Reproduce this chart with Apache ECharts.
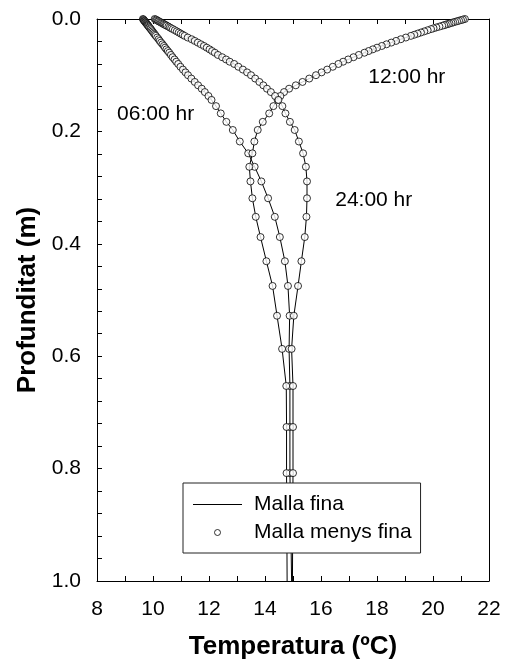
<!DOCTYPE html>
<html>
<head>
<meta charset="utf-8">
<title>Perfils de temperatura</title>
<script src="https://cdn.jsdelivr.net/npm/echarts@6/dist/echarts.min.js"></script>
<style>
  html, body { margin: 0; padding: 0; background: #fff; }
  #chart { width: 506px; height: 665px; }
</style>
</head>
<body>
<div id="chart"></div>
<script>
// Node depths of the coarser mesh (m), shared by the three profiles
const depths = [
  0, 0.001, 0.002, 0.003, 0.004, 0.005, 0.006, 0.007, 0.008, 0.009,
  0.010, 0.011, 0.012, 0.0135, 0.015, 0.0165, 0.018, 0.020, 0.022, 0.024,
  0.026, 0.028, 0.030, 0.033, 0.036, 0.039, 0.042, 0.045, 0.048, 0.051,
  0.054, 0.057, 0.060, 0.064, 0.068, 0.072, 0.076, 0.080, 0.085, 0.090,
  0.095, 0.100, 0.106, 0.112, 0.118, 0.124, 0.130, 0.137, 0.144, 0.155,
  0.168, 0.183, 0.1975, 0.218, 0.239, 0.263, 0.289, 0.319, 0.352, 0.388,
  0.431, 0.475, 0.528, 0.587, 0.653, 0.726, 0.808, 0.900
];

// Temperature (ºC) at each node, 06:00 h
const temp06 = [
  9.64, 9.66, 9.67, 9.69, 9.70, 9.72, 9.73, 9.75, 9.77, 9.78,
  9.80, 9.81, 9.83, 9.85, 9.87, 9.90, 9.92, 9.95, 9.98, 10.01,
  10.04, 10.07, 10.10, 10.15, 10.20, 10.24, 10.29, 10.34, 10.39, 10.43,
  10.48, 10.53, 10.58, 10.64, 10.70, 10.77, 10.83, 10.90, 10.98, 11.07,
  11.16, 11.25, 11.37, 11.49, 11.61, 11.74, 11.85, 11.98, 12.09, 12.25,
  12.42, 12.62, 12.85, 13.10, 13.40, 13.63, 13.87, 14.11, 14.35, 14.53,
  14.71, 14.82, 14.88, 14.86, 14.89, 14.89, 14.89, 14.92
];

// Temperature (ºC) at each node, 12:00 h
const temp12 = [
  21.14, 21.07, 21.00, 20.93, 20.86, 20.79, 20.72, 20.66, 20.59, 20.53,
  20.46, 20.40, 20.33, 20.23, 20.12, 20.02, 19.93, 19.81, 19.69, 19.57,
  19.45, 19.33, 19.21, 19.03, 18.85, 18.68, 18.51, 18.34, 18.17, 18.00,
  17.85, 17.70, 17.55, 17.35, 17.16, 16.97, 16.79, 16.62, 16.42, 16.22,
  16.02, 15.82, 15.58, 15.34, 15.10, 14.86, 14.68, 14.55, 14.45, 14.30,
  14.15, 13.92, 13.74, 13.62, 13.55, 13.44, 13.48, 13.55, 13.67, 13.84,
  14.05, 14.27, 14.43, 14.61, 14.76, 14.77, 14.77, 14.78
];

// Temperature (ºC) at each node, 24:00 h
const temp24 = [
  10.06, 10.10, 10.13, 10.17, 10.20, 10.24, 10.28, 10.31, 10.35, 10.38,
  10.42, 10.46, 10.49, 10.55, 10.60, 10.65, 10.71, 10.78, 10.85, 10.92,
  10.99, 11.06, 11.13, 11.24, 11.38, 11.49, 11.60, 11.71, 11.82, 11.92,
  12.02, 12.11, 12.21, 12.32, 12.47, 12.61, 12.74, 12.90, 13.05, 13.21,
  13.36, 13.50, 13.65, 13.80, 13.94, 14.07, 14.21, 14.36, 14.48, 14.62,
  14.73, 14.89, 15.06, 15.21, 15.36, 15.46, 15.50, 15.50, 15.48, 15.42,
  15.30, 15.18, 15.03, 14.95, 15.00, 15.00, 15.00, 14.99
];

// Bottom of the domain, reached by the fine-mesh solution
const bottomDepth = 1.0;
const bottom06 = 14.95;
const bottom12 = 14.79;
const bottom24 = 14.98;

const profileLabels = ['06:00 hr', '12:00 hr', '24:00 hr'];
const xTicks = [8, 10, 12, 14, 16, 18, 20, 22];
const yTicks = [0.0, 0.2, 0.4, 0.6, 0.8, 1.0];

const FONT = "'Liberation Sans', Arial, Helvetica, sans-serif";

function coarsePoints(temps) {
  return depths.map((d, i) => [temps[i], d]);
}
function finePoints(temps, bottomTemp) {
  return coarsePoints(temps).concat([[bottomTemp, bottomDepth]]);
}

function fineSeries(temps, bottomTemp, label, coord) {
  return {
    name: 'Malla fina',
    type: 'line',
    data: finePoints(temps, bottomTemp),
    symbol: 'none',
    showSymbol: false,
    lineStyle: { color: '#000', width: 1 },
    itemStyle: { color: '#000' },
    z: 2,
    markPoint: {
      silent: true,
      symbol: 'circle',
      symbolSize: 1,
      itemStyle: { color: 'rgba(0,0,0,0)' },
      label: {
        show: true,
        position: 'right',
        distance: 0,
        formatter: label,
        fontSize: 21,
        color: '#000',
        fontFamily: FONT
      },
      data: [{ coord: coord }]
    }
  };
}

function coarseSeries(temps) {
  return {
    name: 'Malla menys fina',
    type: 'scatter',
    data: coarsePoints(temps),
    symbol: 'circle',
    symbolSize: 7,
    clip: false,
    itemStyle: { color: '#fff', borderColor: '#000', borderWidth: 1 },
    z: 3
  };
}

const axisLineStyle = { color: '#000', width: 1 };

const chart = echarts.init(document.getElementById('chart'), null, { renderer: 'canvas' });

chart.setOption({
  animation: false,
  backgroundColor: '#fff',
  grid: { left: 97, right: 17, top: 19, bottom: 84, containLabel: false },
  xAxis: [
    {
      type: 'value',
      min: xTicks[0],
      max: xTicks[xTicks.length - 1],
      interval: xTicks[1] - xTicks[0],
      position: 'bottom',
      axisLine: { show: true, onZero: false, lineStyle: axisLineStyle },
      axisTick: { show: true, inside: true, length: 5, lineStyle: axisLineStyle },
      minorTick: { show: true, splitNumber: 2, length: 5, lineStyle: axisLineStyle },
      splitLine: { show: false },
      axisLabel: { fontSize: 21, color: '#000', margin: 18, fontFamily: FONT },
      name: 'Temperatura (ºC)',
      nameLocation: 'middle',
      nameGap: 53,
      nameTextStyle: { fontSize: 26, fontWeight: 'bold', color: '#000', fontFamily: FONT }
    },
    {
      type: 'value',
      min: xTicks[0],
      max: xTicks[xTicks.length - 1],
      interval: 1,
      position: 'top',
      axisLine: { show: true, onZero: false, lineStyle: axisLineStyle },
      axisTick: { show: true, inside: true, length: 5, lineStyle: axisLineStyle },
      axisLabel: { show: false },
      splitLine: { show: false }
    }
  ],
  yAxis: [
    {
      type: 'value',
      inverse: true,
      min: yTicks[0],
      max: yTicks[yTicks.length - 1],
      interval: 0.2,
      position: 'left',
      axisLine: { show: true, onZero: false, lineStyle: axisLineStyle },
      axisTick: { show: true, inside: true, length: 5, lineStyle: axisLineStyle },
      minorTick: { show: true, splitNumber: 5, length: 5, lineStyle: axisLineStyle },
      splitLine: { show: false },
      axisLabel: {
        fontSize: 21, color: '#000', margin: 16, fontFamily: FONT,
        formatter: v => v.toFixed(1)
      },
      name: 'Profunditat (m)',
      nameLocation: 'middle',
      nameGap: 56,
      nameRotate: 90,
      nameTextStyle: { fontSize: 26, fontWeight: 'bold', color: '#000', fontFamily: FONT }
    },
    {
      type: 'value',
      inverse: true,
      min: yTicks[0],
      max: yTicks[yTicks.length - 1],
      position: 'right',
      axisLine: { show: true, onZero: false, lineStyle: axisLineStyle },
      axisTick: { show: false },
      axisLabel: { show: false },
      splitLine: { show: false }
    }
  ],
  legend: {
    orient: 'vertical',
    left: 183,
    top: 483,
    padding: [11, 9, 10, 10],
    itemWidth: 49,
    itemHeight: 6,
    itemGap: 7,
    backgroundColor: '#fff',
    borderColor: '#222',
    borderWidth: 1,
    borderRadius: 0,
    selectedMode: false,
    textStyle: { fontSize: 21, color: '#000', fontFamily: FONT, lineHeight: 20, padding: [0, 0, 0, 7] },
    data: [
      { name: 'Malla fina', icon: 'path://M0,0L49,0L49,1L0,1Z', itemStyle: { color: '#000' } },
      { name: 'Malla menys fina', icon: 'circle', itemStyle: { color: '#fff', borderColor: '#000', borderWidth: 1 } }
    ]
  },
  series: [
    fineSeries(temp06, bottom06, profileLabels[0], [8.70, 0.169]),
    fineSeries(temp12, bottom12, profileLabels[1], [17.67, 0.103]),
    fineSeries(temp24, bottom24, profileLabels[2], [16.49, 0.322]),
    coarseSeries(temp06),
    coarseSeries(temp12),
    coarseSeries(temp24)
  ]
});
</script>
</body>
</html>
